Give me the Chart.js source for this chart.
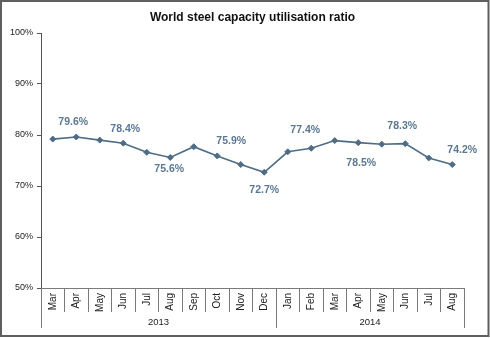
<!DOCTYPE html>
<html>
<head>
<meta charset="utf-8">
<script src="https://cdn.jsdelivr.net/npm/chart.js@4"></script>
<style>
html,body{margin:0;padding:0;background:#fff;}
#wrap{position:relative;width:490px;height:338px;}
</style>
</head>
<body>
<div id="wrap"><canvas id="c" width="490" height="338"></canvas></div>
<script>
// ---- data ----
const months = ['Mar','Apr','May','Jun','Jul','Aug','Sep','Oct','Nov','Dec','Jan','Feb','Mar','Apr','May','Jun','Jul','Aug'];
const years = ['2013','2014'];
const monthsPerYear = [10, 8];
const ratio = [79.2, 79.6, 79.0, 78.4, 76.6, 75.6, 77.7, 75.9, 74.2, 72.7, 76.7, 77.4, 78.9, 78.5, 78.2, 78.3, 75.5, 74.2];
const labelledIdx = [1, 3, 5, 7, 9, 11, 13, 15, 17];
const yTicks = [50, 60, 70, 80, 90, 100];
const title = 'World steel capacity utilisation ratio';

// label placement (offset from point, px)
const labelDx = [-3, 2, -1, 14, 0, -6, 3, -3, 10];
const labelDy = [-15, -14, 12, -15, 18, -18, 20, -18, -14];

const FONT = "'Liberation Sans', Arial, sans-serif";
const LINE = '#4f6c86';
const LABEL = '#5a7893';

const borderPlugin = {
  id: 'outerBorder',
  beforeDraw(chart) {
    const ctx = chart.ctx;
    ctx.save();
    ctx.strokeStyle = '#5f5f5f';
    ctx.lineWidth = 2;
    ctx.strokeRect(1, 1, chart.width - 2.5, chart.height - 3);
    ctx.restore();
  }
};

const yearPlugin = {
  id: 'yearAxis',
  afterDraw(chart) {
    const ctx = chart.ctx;
    const xs = chart.scales.x;
    const top = chart.chartArea.bottom;
    const step = xs.getPixelForValue(1) - xs.getPixelForValue(0);
    ctx.save();
    ctx.strokeStyle = '#7a7a7a';
    ctx.lineWidth = 1;
    ctx.fillStyle = '#222';
    ctx.font = '9.5px ' + FONT;
    ctx.textAlign = 'center';
    ctx.textBaseline = 'middle';
    let start = 0;
    const drawSep = (px) => {
      const x = Math.round(px) + 0.5;
      ctx.beginPath();
      ctx.moveTo(x, top);
      ctx.lineTo(x, top + 40);
      ctx.stroke();
    };
    drawSep(xs.getPixelForValue(0) - step / 2);
    years.forEach((y, i) => {
      const end = start + monthsPerYear[i] - 1;
      const left = xs.getPixelForValue(start) - step / 2;
      const right = xs.getPixelForValue(end) + step / 2;
      drawSep(right);
      ctx.fillText(y, (left + right) / 2, top + 34.5);
      start = end + 1;
    });
    ctx.restore();
  }
};

const labelPlugin = {
  id: 'pointLabels',
  afterDatasetsDraw(chart) {
    const ctx = chart.ctx;
    const meta = chart.getDatasetMeta(0);
    ctx.save();
    ctx.fillStyle = LABEL;
    ctx.font = 'bold 10.5px ' + FONT;
    ctx.textAlign = 'center';
    ctx.textBaseline = 'middle';
    labelledIdx.forEach((idx, k) => {
      const p = meta.data[idx];
      ctx.fillText(ratio[idx].toFixed(1) + '%', p.x + labelDx[k], p.y + labelDy[k]);
    });
    ctx.restore();
  }
};

new Chart(document.getElementById('c'), {
  type: 'line',
  data: {
    labels: months,
    datasets: [{
      data: ratio,
      borderColor: LINE,
      backgroundColor: LINE,
      borderWidth: 1.6,
      pointStyle: 'rectRot',
      pointRadius: 3,
      pointBorderWidth: 1,
      tension: 0,
      fill: false
    }]
  },
  options: {
    responsive: false,
    animation: false,
    devicePixelRatio: 1,
    layout: { padding: { left: 0, right: 26, top: 0, bottom: 0 } },
    plugins: {
      legend: { display: false },
      tooltip: { enabled: false },
      title: {
        display: true,
        text: title,
        fullSize: false,
        color: '#111',
        font: { family: FONT, size: 12, weight: 'bold' },
        padding: { top: 10.5, bottom: 8.1 }
      }
    },
    scales: {
      x: {
        type: 'category',
        offset: true,
        grid: {
          display: true,
          offset: true,
          drawOnChartArea: false,
          drawTicks: true,
          tickLength: 24,
          color: '#7a7a7a',
          tickColor: '#7a7a7a'
        },
        border: { display: true, color: '#7a7a7a', width: 1 },
        ticks: {
          autoSkip: false,
          maxRotation: 90,
          minRotation: 90,
          padding: -19,
          color: '#222',
          font: { family: FONT, size: 10 }
        },
        afterFit(scale) { scale.height = 50; }
      },
      y: {
        type: 'linear',
        min: 50,
        max: 100,
        afterBuildTicks(scale) { scale.ticks = yTicks.map(v => ({ value: v })); },
        grid: {
          display: true,
          drawOnChartArea: false,
          drawTicks: true,
          tickLength: 4,
          color: '#555',
          tickColor: '#555'
        },
        border: { display: true, color: '#555', width: 1 },
        ticks: {
          padding: 4,
          color: '#222',
          font: { family: FONT, size: 9 },
          callback: v => v + '%'
        },
        afterFit(scale) { scale.width = 41; }
      }
    }
  },
  plugins: [borderPlugin, yearPlugin, labelPlugin]
});
</script>
</body>
</html>
